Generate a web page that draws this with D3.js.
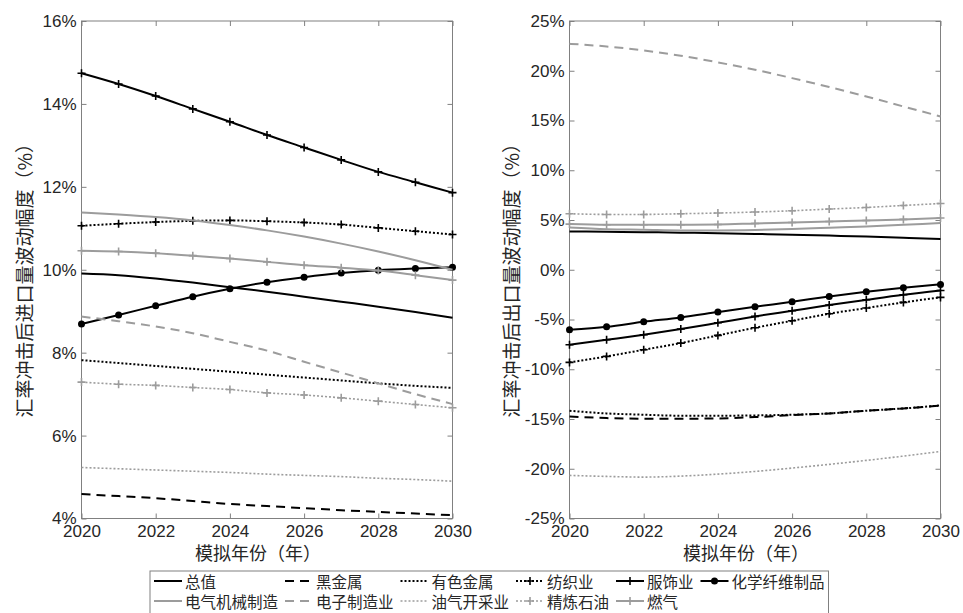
<!DOCTYPE html>
<html>
<head>
<meta charset="utf-8">
<script src="https://cdn.jsdelivr.net/npm/d3@7/dist/d3.min.js"></script>
<style>
  body { margin: 0; background: #fff; }
  text { font-family: "Liberation Sans", Arial, sans-serif; }
  .cjk { font-family: "Noto Sans CJK SC", "Noto Sans", sans-serif; }
</style>
</head>
<body>
<svg id="chart" width="963" height="613"></svg>
<script>
// Simulated years
const years = [2020, 2021, 2022, 2023, 2024, 2025, 2026, 2027, 2028, 2029, 2030];

// Sector names
const sectors = ["总值", "黑金属", "有色金属", "纺织业", "服饰业", "化学纤维制品",
                 "电气机械制造", "电子制造业", "油气开采业", "精炼石油", "燃气"];

// Import volume fluctuation after exchange-rate shock (%)
const importTotal      = [9.91, 9.87, 9.79, 9.69, 9.58, 9.47, 9.35, 9.23, 9.11, 8.98, 8.84];
const importFerrous    = [4.59, 4.54, 4.49, 4.42, 4.35, 4.30, 4.25, 4.20, 4.16, 4.12, 4.08];
const importNonferrous = [7.82, 7.75, 7.68, 7.61, 7.54, 7.47, 7.40, 7.33, 7.26, 7.20, 7.15];
const importTextile    = [11.06, 11.11, 11.15, 11.18, 11.19, 11.17, 11.14, 11.09, 11.01, 10.93, 10.85];
const importApparel    = [14.74, 14.48, 14.19, 13.88, 13.57, 13.25, 12.95, 12.65, 12.36, 12.11, 11.86];
const importChemFiber  = [8.69, 8.91, 9.13, 9.35, 9.54, 9.70, 9.82, 9.92, 9.99, 10.03, 10.06];
const importElecMach   = [11.38, 11.33, 11.27, 11.19, 11.08, 10.95, 10.80, 10.63, 10.44, 10.23, 10.00];
const importElectronic = [8.87, 8.76, 8.63, 8.47, 8.26, 8.05, 7.78, 7.52, 7.26, 7.00, 6.76];
const importOilGas     = [5.23, 5.20, 5.17, 5.14, 5.11, 5.07, 5.04, 5.01, 4.97, 4.94, 4.90];
const importRefined    = [7.29, 7.24, 7.21, 7.16, 7.11, 7.03, 6.98, 6.91, 6.83, 6.75, 6.67];
const importGas        = [10.46, 10.44, 10.40, 10.34, 10.27, 10.19, 10.11, 10.05, 9.98, 9.87, 9.75];

// Export volume fluctuation after exchange-rate shock (%)
const exportTotal      = [3.85, 3.82, 3.78, 3.73, 3.67, 3.60, 3.52, 3.43, 3.33, 3.21, 3.08];
const exportFerrous    = [-14.74, -14.91, -14.97, -14.97, -14.94, -14.81, -14.61, -14.44, -14.17, -13.94, -13.64];
const exportNonferrous = [-14.17, -14.44, -14.57, -14.67, -14.67, -14.64, -14.57, -14.44, -14.17, -13.94, -13.64];
const exportTextile    = [-9.31, -8.71, -8.04, -7.37, -6.60, -5.83, -5.13, -4.42, -3.85, -3.28, -2.78];
const exportApparel    = [-7.54, -7.04, -6.53, -5.96, -5.33, -4.69, -4.12, -3.55, -3.02, -2.51, -2.08];
const exportChemFiber  = [-6.03, -5.73, -5.23, -4.79, -4.25, -3.72, -3.22, -2.68, -2.21, -1.81, -1.47];
const exportElecMach   = [4.25, 4.08, 4.02, 3.95, 3.95, 3.99, 4.09, 4.22, 4.35, 4.52, 4.69];
const exportElectronic = [22.71, 22.44, 22.04, 21.51, 20.84, 20.10, 19.26, 18.36, 17.42, 16.41, 15.41];
const exportOilGas     = [-20.67, -20.77, -20.84, -20.74, -20.54, -20.27, -19.93, -19.56, -19.16, -18.73, -18.26];
const exportRefined    = [5.63, 5.56, 5.56, 5.63, 5.70, 5.80, 5.93, 6.10, 6.26, 6.46, 6.66];
const exportGas        = [4.59, 4.52, 4.52, 4.52, 4.55, 4.65, 4.75, 4.85, 4.95, 5.06, 5.20];

const importSeries = [importTotal, importFerrous, importNonferrous, importTextile, importApparel, importChemFiber,
                      importElecMach, importElectronic, importOilGas, importRefined, importGas];
const exportSeries = [exportTotal, exportFerrous, exportNonferrous, exportTextile, exportApparel, exportChemFiber,
                      exportElecMach, exportElectronic, exportOilGas, exportRefined, exportGas];

// Axis ticks
const xTicks = [2020, 2022, 2024, 2026, 2028, 2030];
const importTicks = [4, 6, 8, 10, 12, 14, 16];
const exportTicks = [-25, -20, -15, -10, -5, 0, 5, 10, 15, 20, 25];

// Line styles per sector
const BLACK = "#000000", GRAY = "#9c9c9c";
const styles = [
  { color: BLACK, dash: null,   marker: null,   width: 2 },
  { color: BLACK, dash: "9,6",  marker: null,   width: 2 },
  { color: BLACK, dash: "2,2",  marker: null,   width: 2 },
  { color: BLACK, dash: "2,2",  marker: "plus", width: 2 },
  { color: BLACK, dash: null,   marker: "plus", width: 2 },
  { color: BLACK, dash: null,   marker: "dot",  width: 2 },
  { color: GRAY,  dash: null,   marker: null,   width: 2 },
  { color: GRAY,  dash: "9,6",  marker: null,   width: 2 },
  { color: GRAY,  dash: "2,2",  marker: null,   width: 1.6 },
  { color: GRAY,  dash: "2,2",  marker: "plus", width: 1.6 },
  { color: GRAY,  dash: null,   marker: "plus", width: 2 }
];

const svg = d3.select("#chart");
const AXIS = "#808080", LABEL = "#262626";

function drawPanel(opt) {
  const x = d3.scaleLinear().domain([2020, 2030]).range([opt.left, opt.right]);
  const y = d3.scaleLinear().domain(opt.domain).range([opt.bottom, opt.top]);
  const g = svg.append("g");

  // inward ticks on all four sides
  const tick = 5;
  g.append("g").attr("transform", `translate(0,${opt.bottom})`)
    .call(d3.axisBottom(x).tickValues(xTicks).tickFormat(d3.format("d")).tickSize(-tick).tickSizeOuter(0).tickPadding(6));
  g.append("g").attr("transform", `translate(0,${opt.top})`)
    .call(d3.axisTop(x).tickValues(xTicks).tickFormat("").tickSize(-tick).tickSizeOuter(0));
  g.append("g").attr("transform", `translate(${opt.left},0)`)
    .call(d3.axisLeft(y).tickValues(opt.ticks).tickFormat(d => d + "%").tickSize(-tick).tickSizeOuter(0).tickPadding(5));
  g.append("g").attr("transform", `translate(${opt.right},0)`)
    .call(d3.axisRight(y).tickValues(opt.ticks).tickFormat("").tickSize(-tick).tickSizeOuter(0));
  g.selectAll(".domain").remove();
  g.selectAll(".tick line").attr("stroke", AXIS);
  g.selectAll(".tick text").attr("fill", LABEL).style("font-size", "17px")
    .style("font-family", "'Liberation Sans', Arial, sans-serif");

  g.append("rect")
    .attr("x", opt.left).attr("y", opt.top)
    .attr("width", opt.right - opt.left).attr("height", opt.bottom - opt.top)
    .attr("fill", "none").attr("stroke", AXIS).attr("stroke-width", 1);

  const line = d3.line().x((d, i) => x(years[i])).y(d => y(d)).curve(d3.curveMonotoneX);

  opt.series.forEach((vals, k) => {
    const s = styles[k];
    const sg = g.append("g");
    sg.append("path").attr("d", line(vals))
      .attr("fill", "none").attr("stroke", s.color).attr("stroke-width", s.width)
      .attr("stroke-dasharray", s.dash);
    if (s.marker === "plus") {
      sg.selectAll("path.m").data(vals).join("path").attr("class", "m")
        .attr("d", (d, i) => `M${x(years[i]) - 4},${y(d)}h8M${x(years[i])},${y(d) - 4}v8`)
        .attr("stroke", s.color).attr("stroke-width", 1.6);
    } else if (s.marker === "dot") {
      sg.selectAll("circle").data(vals).join("circle")
        .attr("cx", (d, i) => x(years[i])).attr("cy", d => y(d)).attr("r", 3.5)
        .attr("fill", s.color);
    }
  });

  // axis titles
  g.append("text").attr("class", "cjk")
    .attr("x", opt.xLabelX).attr("y", 560)
    .attr("text-anchor", "middle").attr("fill", LABEL).style("font-size", "18px")
    .text("模拟年份（年）");
  g.append("text").attr("class", "cjk")
    .attr("transform", `translate(${opt.yLabelX},${(opt.top + opt.bottom) / 2 + 6}) rotate(-90)`)
    .attr("text-anchor", "middle").attr("dominant-baseline", "central")
    .attr("fill", LABEL).style("font-size", "19px")
    .text(opt.yLabel);
}

drawPanel({
  left: 81.5, right: 452.5, top: 21, bottom: 518.5,
  domain: [4, 16], ticks: importTicks, series: importSeries,
  xLabelX: 258, yLabelX: 23, yLabel: "汇率冲击后进口量波动幅度（%）"
});
drawPanel({
  left: 569.5, right: 940.5, top: 21, bottom: 518.5,
  domain: [-25, 25], ticks: exportTicks, series: exportSeries,
  xLabelX: 746, yLabelX: 510, yLabel: "汇率冲击后出口量波动幅度（%）"
});

// Legend: two rows, six columns; each column is as wide as its longest entry
const legendFont = 15.5, legendLeft = 151, sampleLen = 28, colPad = 38;
const legendRows = [581, 601];
const colChars = [0, 1, 2, 3, 4, 5].map(c => {
  const names = [sectors[c], sectors[c + 6]].filter(Boolean);
  return d3.max(names, n => n.length);
});
const colStart = [];
colChars.reduce((acc, n, c) => { colStart[c] = acc; return acc + colPad + n * legendFont; }, legendLeft);
const legendRight = colStart[5] + colPad + colChars[5] * legendFont;

const lg = svg.append("g");
lg.append("rect").attr("x", legendLeft - 1).attr("y", 571)
  .attr("width", legendRight - legendLeft + 1).attr("height", 60)
  .attr("fill", "#fff").attr("stroke", AXIS).attr("stroke-width", 1);

sectors.forEach((name, k) => {
  const row = k < 6 ? 0 : 1;
  const col = k < 6 ? k : k - 6;
  const s = styles[k];
  const x0 = colStart[col] + 3, x1 = x0 + sampleLen;
  const cy = legendRows[row];
  lg.append("line").attr("x1", x0).attr("x2", x1).attr("y1", cy).attr("y2", cy)
    .attr("stroke", s.color).attr("stroke-width", s.width).attr("stroke-dasharray", s.dash);
  const mx = (x0 + x1) / 2;
  if (s.marker === "plus") {
    lg.append("path").attr("d", `M${mx - 4},${cy}h8M${mx},${cy - 4}v8`)
      .attr("stroke", s.color).attr("stroke-width", 1.6);
  } else if (s.marker === "dot") {
    lg.append("circle").attr("cx", mx).attr("cy", cy).attr("r", 3.5).attr("fill", s.color);
  }
  lg.append("text").attr("class", "cjk")
    .attr("x", x1 + 3).attr("y", cy).attr("dominant-baseline", "central")
    .attr("fill", LABEL).style("font-size", legendFont + "px").text(name);
});
</script>
</body>
</html>
